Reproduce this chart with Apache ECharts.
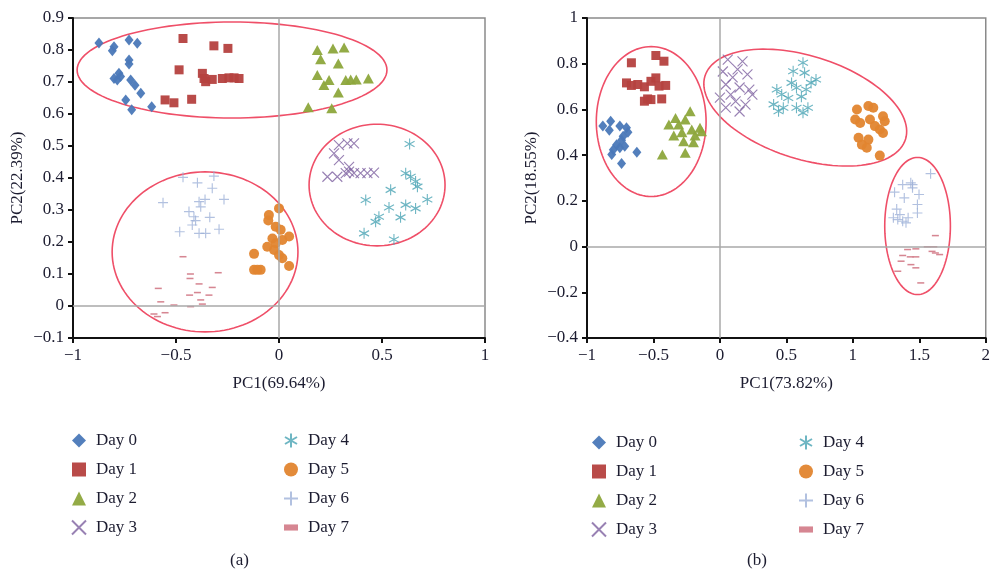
<!DOCTYPE html>
<html><head><meta charset="utf-8">
<script src="https://cdn.jsdelivr.net/npm/echarts@6/dist/echarts.min.js"></script>
<style>html,body{margin:0;padding:0;background:#fff}#c{width:993px;height:571px}</style>
</head><body><div id="c"></div>
<script>
// ---------- data (PCA scores) ----------
const dayNames = ['Day 0','Day 1','Day 2','Day 3','Day 4','Day 5','Day 6','Day 7'];

// (a) PC1(69.64%) vs PC2(22.39%)
const a_day0 = [[-0.874,0.822],[-0.801,0.81],[-0.809,0.798],[-0.728,0.831],[-0.688,0.821],[-0.728,0.769],[-0.728,0.756],[-0.777,0.727],[-0.801,0.711],[-0.785,0.706],[-0.769,0.717],[-0.72,0.706],[-0.699,0.69],[-0.671,0.665],[-0.744,0.644],[-0.715,0.613],[-0.618,0.623]];
const a_day1 = [[-0.466,0.836],[-0.316,0.813],[-0.248,0.805],[-0.485,0.738],[-0.372,0.727],[-0.364,0.711],[-0.324,0.708],[-0.275,0.711],[-0.243,0.713],[-0.194,0.711],[-0.356,0.701],[-0.553,0.644],[-0.51,0.635],[-0.424,0.646],[-0.218,0.713]];
const a_day2 = [[0.186,0.8],[0.262,0.805],[0.316,0.808],[0.202,0.771],[0.288,0.758],[0.186,0.722],[0.218,0.691],[0.243,0.706],[0.324,0.706],[0.348,0.708],[0.375,0.708],[0.434,0.711],[0.288,0.667],[0.142,0.621],[0.256,0.618]];
const a_day3 = [[0.291,0.503],[0.332,0.508],[0.364,0.508],[0.267,0.477],[0.291,0.456],[0.34,0.435],[0.235,0.404],[0.283,0.404],[0.324,0.415],[0.34,0.42],[0.364,0.415],[0.396,0.415],[0.429,0.415],[0.461,0.417]];
const a_day4 = [[0.634,0.506],[0.615,0.415],[0.639,0.404],[0.663,0.389],[0.672,0.373],[0.542,0.363],[0.72,0.333],[0.421,0.331],[0.615,0.316],[0.663,0.305],[0.534,0.308],[0.59,0.277],[0.485,0.279],[0.469,0.263],[0.413,0.227],[0.558,0.208]];
const a_day5 = [[0,0.305],[-0.049,0.284],[-0.052,0.267],[-0.016,0.248],[0.008,0.238],[0.049,0.217],[-0.032,0.211],[0.016,0.206],[-0.016,0.196],[-0.057,0.185],[-0.024,0.175],[0,0.159],[-0.121,0.163],[0.016,0.149],[0.049,0.125],[-0.121,0.113],[-0.089,0.113],[-0.105,0.113]];
const a_day6 = [[-0.466,0.402],[-0.396,0.385],[-0.316,0.406],[-0.324,0.368],[-0.563,0.323],[-0.388,0.326],[-0.359,0.333],[-0.267,0.333],[-0.38,0.31],[-0.437,0.295],[-0.413,0.279],[-0.336,0.277],[-0.405,0.267],[-0.421,0.253],[-0.482,0.232],[-0.388,0.227],[-0.356,0.227],[-0.291,0.24]];
const a_day7 = [[-0.466,0.154],[-0.43,0.1],[-0.295,0.104],[-0.432,0.086],[-0.388,0.069],[-0.586,0.055],[-0.324,0.058],[-0.434,0.034],[-0.396,0.042],[-0.34,0.034],[-0.38,0.019],[-0.574,0.013],[-0.372,0.006],[-0.429,-0.002],[-0.51,0.003],[-0.553,-0.021],[-0.607,-0.025],[-0.59,-0.033]];

// (b) PC1(73.82%) vs PC2(18.55%)
const b_day0 = [[-0.881,0.527],[-0.822,0.548],[-0.832,0.509],[-0.753,0.527],[-0.703,0.52],[-0.692,0.5],[-0.728,0.483],[-0.74,0.465],[-0.777,0.446],[-0.802,0.424],[-0.814,0.403],[-0.753,0.432],[-0.716,0.439],[-0.625,0.413],[-0.74,0.363]];
const b_day1 = [[-0.666,0.804],[-0.482,0.836],[-0.421,0.811],[-0.703,0.716],[-0.666,0.705],[-0.618,0.709],[-0.568,0.699],[-0.519,0.723],[-0.482,0.738],[-0.458,0.702],[-0.408,0.705],[-0.544,0.646],[-0.568,0.636],[-0.519,0.643],[-0.438,0.646]];
const b_day2 = [[-0.224,0.592],[-0.334,0.563],[-0.261,0.556],[-0.384,0.534],[-0.31,0.534],[-0.15,0.52],[-0.212,0.512],[-0.286,0.5],[-0.187,0.486],[-0.347,0.486],[-0.273,0.461],[-0.199,0.456],[-0.433,0.403],[-0.261,0.41],[-0.138,0.505]];
const b_day3 = [[0.059,0.818],[0.17,0.81],[0.133,0.775],[0.022,0.766],[0.096,0.74],[0.207,0.753],[0.044,0.709],[0.148,0.696],[0.221,0.687],[0.081,0.665],[0.0,0.652],[0.118,0.635],[0.192,0.621],[0.044,0.608],[0.148,0.591],[0.244,0.665]];
const b_day4 = [[0.625,0.804],[0.551,0.767],[0.637,0.76],[0.723,0.731],[0.539,0.716],[0.686,0.716],[0.428,0.687],[0.576,0.695],[0.649,0.687],[0.465,0.665],[0.514,0.65],[0.613,0.656],[0.404,0.622],[0.477,0.607],[0.576,0.607],[0.662,0.607],[0.441,0.592],[0.625,0.585]];
const b_day5 = [[1.031,0.6],[1.117,0.615],[1.154,0.607],[1.018,0.556],[1.055,0.541],[1.129,0.556],[1.227,0.57],[1.24,0.548],[1.166,0.527],[1.203,0.512],[1.227,0.497],[1.043,0.476],[1.117,0.468],[1.068,0.446],[1.105,0.432],[1.203,0.398]];
const b_day6 = [[1.314,0.238],[1.375,0.271],[1.436,0.279],[1.449,0.257],[1.585,0.319],[1.498,0.228],[1.387,0.213],[1.486,0.184],[1.33,0.164],[1.354,0.14],[1.305,0.126],[1.416,0.126],[1.486,0.147],[1.375,0.111],[1.449,0.271],[1.4,0.104],[1.338,0.118]];
const b_day7 = [[1.621,0.048],[1.412,-0.013],[1.474,-0.01],[1.56,-0.001],[1.609,-0.001],[1.596,-0.021],[1.653,-0.035],[1.375,-0.039],[1.432,-0.045],[1.474,-0.045],[1.363,-0.064],[1.437,-0.079],[1.474,-0.093],[1.338,-0.108],[1.511,-0.159],[1.621,-0.028]];

// cluster ellipses: [cx, cy, ux, uy, vx, vy] (centre + two conjugate half-axes, data units)
const a_ellipses = [[-0.228,0.7375,0.752,0,0,0.15],[0.476,0.378,0.33,0,0,0.19],[-0.359,0.169,0.451,0,0,0.25]];
const b_ellipses = [[-0.517,0.547,0.413,0,0,0.328],[0.642,0.608,0.755,-0.137,-0.111,-0.216],[1.487,0.09,0.247,0,0,0.30]];

// axis ranges / ticks
const a_x = {min:-1, max:1, step:0.5}, a_y = {min:-0.1, max:0.9, step:0.1};
const b_x = {min:-1, max:2, step:0.5}, b_y = {min:-0.4, max:1, step:0.2};
const a_names = ['PC1(69.64%)','PC2(22.39%)'];
const b_names = ['PC1(73.82%)','PC2(18.55%)'];

// ---------- styles ----------
const FONT = '"Liberation Serif","DejaVu Serif",serif';
const TXT = '#1c1c30';
const colors = ['#4a78b8','#b5413f','#8da63c','#7e62a0','#4aa4b4','#e2852f','#9fb1d8','#d4808c'];
const symbolDefs = [
  {symbol:'diamond', size:[9,11]},
  {symbol:'rect', size:9},
  {symbol:'triangle', size:[11,10]},
  {symbol:'path://M0,0L10,10M10,0L0,10', size:10, stroke:true},
  {symbol:'path://M5,0L5,10M0.7,2.5L9.3,7.5M0.7,7.5L9.3,2.5', size:[10,11], stroke:true},
  {symbol:'circle', size:10},
  {symbol:'path://M5,0L5,10M0,5L10,5', size:10, stroke:true},
  {symbol:'path://M0,0L8,0L8,3.5L0,3.5Z', size:[7,3.5], keep:true}
];
const fmt = v => String(+(+v).toFixed(2)).replace('-', '\u2212');

function axis(kind, grid, r, name){
  const isX = kind === 'x';
  return {
    type:'value', gridIndex:grid, min:r.min, max:r.max, interval:r.step,
    name:name, nameLocation:'middle', nameGap: isX ? 37 : 47,
    nameTextStyle:{fontFamily:FONT, fontSize:17, color:TXT},
    axisLine:{show:true, onZero:false, lineStyle:{color:'#111', width:2}},
    axisTick:{show:true, inside:false, length:5, lineStyle:{color:'#111', width:2}},
    axisLabel:{fontFamily:FONT, fontSize:17, color:TXT, margin:9, formatter:fmt},
    splitLine:{show:false}
  };
}

function ellipseSeries(list, gi){
  return {
    type:'custom', xAxisIndex:gi, yAxisIndex:gi, data:list, silent:true, z:3,
    dimensions:['cx','cy','ux','uy','vx','vy'], encode:{x:0, y:1},
    renderItem:function(params, api){
      const cx=api.value(0), cy=api.value(1), ux=api.value(2), uy=api.value(3), vx=api.value(4), vy=api.value(5);
      const pts=[];
      for(let i=0;i<120;i++){
        const t=i/120*Math.PI*2, c=Math.cos(t), s=Math.sin(t);
        pts.push(api.coord([cx+ux*c+vx*s, cy+uy*c+vy*s]));
      }
      return {type:'polygon', shape:{points:pts}, style:{fill:'none', stroke:'#ef4f68', lineWidth:1.6}};
    },
    markLine:{silent:true, symbol:'none', label:{show:false},
      lineStyle:{color:'#a8a8a8', width:1.5, type:'solid'},
      data:[{xAxis:0},{yAxis:0}]}
  };
}

function scatterSeries(datasets, gi){
  return datasets.map((d,i)=>{
    const sd = symbolDefs[i];
    return {
      name: dayNames[i], type:'scatter', xAxisIndex:gi, yAxisIndex:gi, data:d,
      symbol: sd.symbol, symbolSize: sd.size, z:4,
      symbolKeepAspect: !!sd.keep,
      itemStyle: sd.stroke ? {color:'transparent', borderColor:colors[i], borderWidth:1.15} : {color:colors[i], opacity:0.95},
      emphasis:{disabled:true}
    };
  });
}

function legend(left, top, names){
  return {
    orient:'vertical', left:left, top:top, itemWidth:14, itemHeight:14, itemGap:12,
    selectedMode:false, data:names,
    textStyle:{fontFamily:FONT, fontSize:17, color:TXT, padding:[0,0,0,5]}
  };
}

const chart = echarts.init(document.getElementById('c'), null, {renderer:'canvas'});
chart.setOption({
  animation:false,
  backgroundColor:'#fff',
  grid:[
    {left:73, top:18, width:412, height:320, show:true, borderColor:'#8a8a8a', borderWidth:1.5, backgroundColor:'transparent'},
    {left:587, top:18, width:407, height:320, show:true, borderColor:'#8a8a8a', borderWidth:1.5, backgroundColor:'transparent'}
  ],
  xAxis:[axis('x',0,a_x,a_names[0]), axis('x',1,b_x,b_names[0])],
  yAxis:[axis('y',0,a_y,a_names[1]), axis('y',1,b_y,b_names[1])],
  legend:[
    legend(66, 427, dayNames.slice(0,4)),
    legend(278, 427, dayNames.slice(4,8)),
    legend(586, 429, dayNames.slice(0,4)),
    legend(793, 429, dayNames.slice(4,8))
  ],
  graphic:[
    {type:'text', left:230, top:552, style:{text:'(a)', font:'17px '+FONT, fill:TXT}},
    {type:'text', left:747, top:552, style:{text:'(b)', font:'17px '+FONT, fill:TXT}}
  ],
  series:[
    ellipseSeries(a_ellipses,0),
    ellipseSeries(b_ellipses,1),
    ...scatterSeries([a_day0,a_day1,a_day2,a_day3,a_day4,a_day5,a_day6,a_day7],0),
    ...scatterSeries([b_day0,b_day1,b_day2,b_day3,b_day4,b_day5,b_day6,b_day7],1)
  ]
});
</script></body></html>
